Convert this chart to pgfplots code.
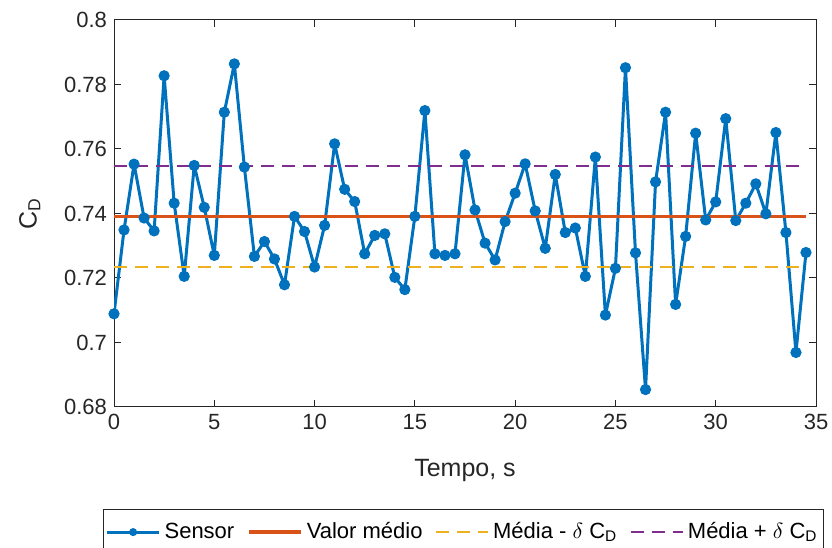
\documentclass[border=0pt]{standalone}
\usepackage{pgfplots}
\pgfplotsset{compat=1.18}
\usepackage{fontspec}
\setmainfont{Liberation Sans}

\definecolor{mblue}{rgb}{0,0.447,0.741}
\definecolor{morange}{rgb}{0.85,0.325,0.098}
\definecolor{myellow}{rgb}{0.929,0.694,0.125}
\definecolor{mpurple}{rgb}{0.494,0.184,0.556}
\definecolor{axgray}{rgb}{0.15,0.15,0.15}

\pgfplotstableread{
t cd
0 0.7089
0.5 0.7349
1 0.7553
1.5 0.7386
2 0.7346
2.5 0.7827
3 0.7432
3.5 0.7205
4 0.7549
4.5 0.7419
5 0.7270
5.5 0.7714
6 0.7864
6.5 0.7544
7 0.7267
7.5 0.7313
8 0.7259
8.5 0.7179
9 0.7391
9.5 0.7344
10 0.7234
10.5 0.7363
11 0.7616
11.5 0.7475
12 0.7437
12.5 0.7275
13 0.7332
13.5 0.7337
14 0.7202
14.5 0.7164
15 0.7391
15.5 0.7719
16 0.7275
16.5 0.7270
17 0.7275
17.5 0.7582
18 0.7411
18.5 0.7308
19 0.7256
19.5 0.7375
20 0.7463
20.5 0.7554
21 0.7408
21.5 0.7292
22 0.7521
22.5 0.7341
23 0.7355
23.5 0.7205
24 0.7575
24.5 0.7085
25 0.7230
25.5 0.7852
26 0.7278
26.5 0.6854
27 0.7498
27.5 0.7714
28 0.7118
28.5 0.7329
29 0.7649
29.5 0.7380
30 0.7436
30.5 0.7694
31 0.7378
31.5 0.7432
32 0.7492
32.5 0.7399
33 0.7651
33.5 0.7341
34 0.6969
34.5 0.7279
}\sensor

\begin{document}
\begin{tikzpicture}
  \begin{axis}[
    scale only axis,
    width=351pt, height=193.5pt,
    xmin=0, xmax=35,
    ymin=0.68, ymax=0.8,
    xtick={0,5,...,35},
    ytick={0.68,0.70,...,0.8},
    axis line style={axgray, line width=0.5pt},
    tick style={axgray, line width=0.5pt},
    major tick length=3.5pt,
    tick align=inside,
    ticklabel style={font=\fontsize{11}{13}\selectfont, text=axgray},
    /pgf/number format/assume math mode=true,
    yticklabel style={/pgf/number format/fixed, /pgf/number format/precision=2},
    xlabel={Tempo, s},
    ylabel={C\textsubscript{D}},
    label style={font=\fontsize{12.5}{14}\selectfont, text=axgray},
    xlabel style={at={(axis description cs:0.5,-0.163)}, anchor=center},
    ylabel style={at={(axis description cs:-0.12,0.5)}, anchor=center},
    legend columns=4,
    legend style={
      at={(0.498,-0.2636)}, anchor=north,
      draw=axgray, line width=0.5pt,
      font=\fontsize{11}{13}\selectfont, text=black,
      inner ysep=4.5pt, inner xsep=1pt,
      nodes={inner xsep=2pt},
      /tikz/every even column/.append style={column sep=4.5pt},
    },
    legend image code/.code={
      \draw[mark repeat=2, mark phase=2, #1, mark size=1.7pt]
        plot coordinates {(0pt,0pt) (13pt,0pt) (26pt,0pt)};
    },
  ]
    \addplot[mblue, line width=1.5pt, line join=round,
      mark=*, mark size=2.5pt, mark options={line width=0.6pt}] table[x=t, y=cd] {\sensor};
    \addlegendentry{Sensor}
    \addplot[morange, line width=1.75pt] coordinates {(0,0.7391) (34.5,0.7391)};
    \addlegendentry{Valor médio}
    \addplot[myellow, line width=0.8pt, dash pattern=on 6.5pt off 4pt] coordinates {(0,0.7234) (34.5,0.7234)};
    \addlegendentry{Média - $\delta$ C\textsubscript{D}}
    \addplot[mpurple, line width=0.8pt, dash pattern=on 6.5pt off 4pt] coordinates {(0,0.7548) (34.5,0.7548)};
    \addlegendentry{Média + $\delta$ C\textsubscript{D}}
  \end{axis}
  \pgfresetboundingbox
  \path[use as bounding box]
    ([xshift=-57pt,yshift=-70.5pt]current axis.south west)
    rectangle ([xshift=8pt,yshift=10pt]current axis.north east);
\end{tikzpicture}
\end{document}
